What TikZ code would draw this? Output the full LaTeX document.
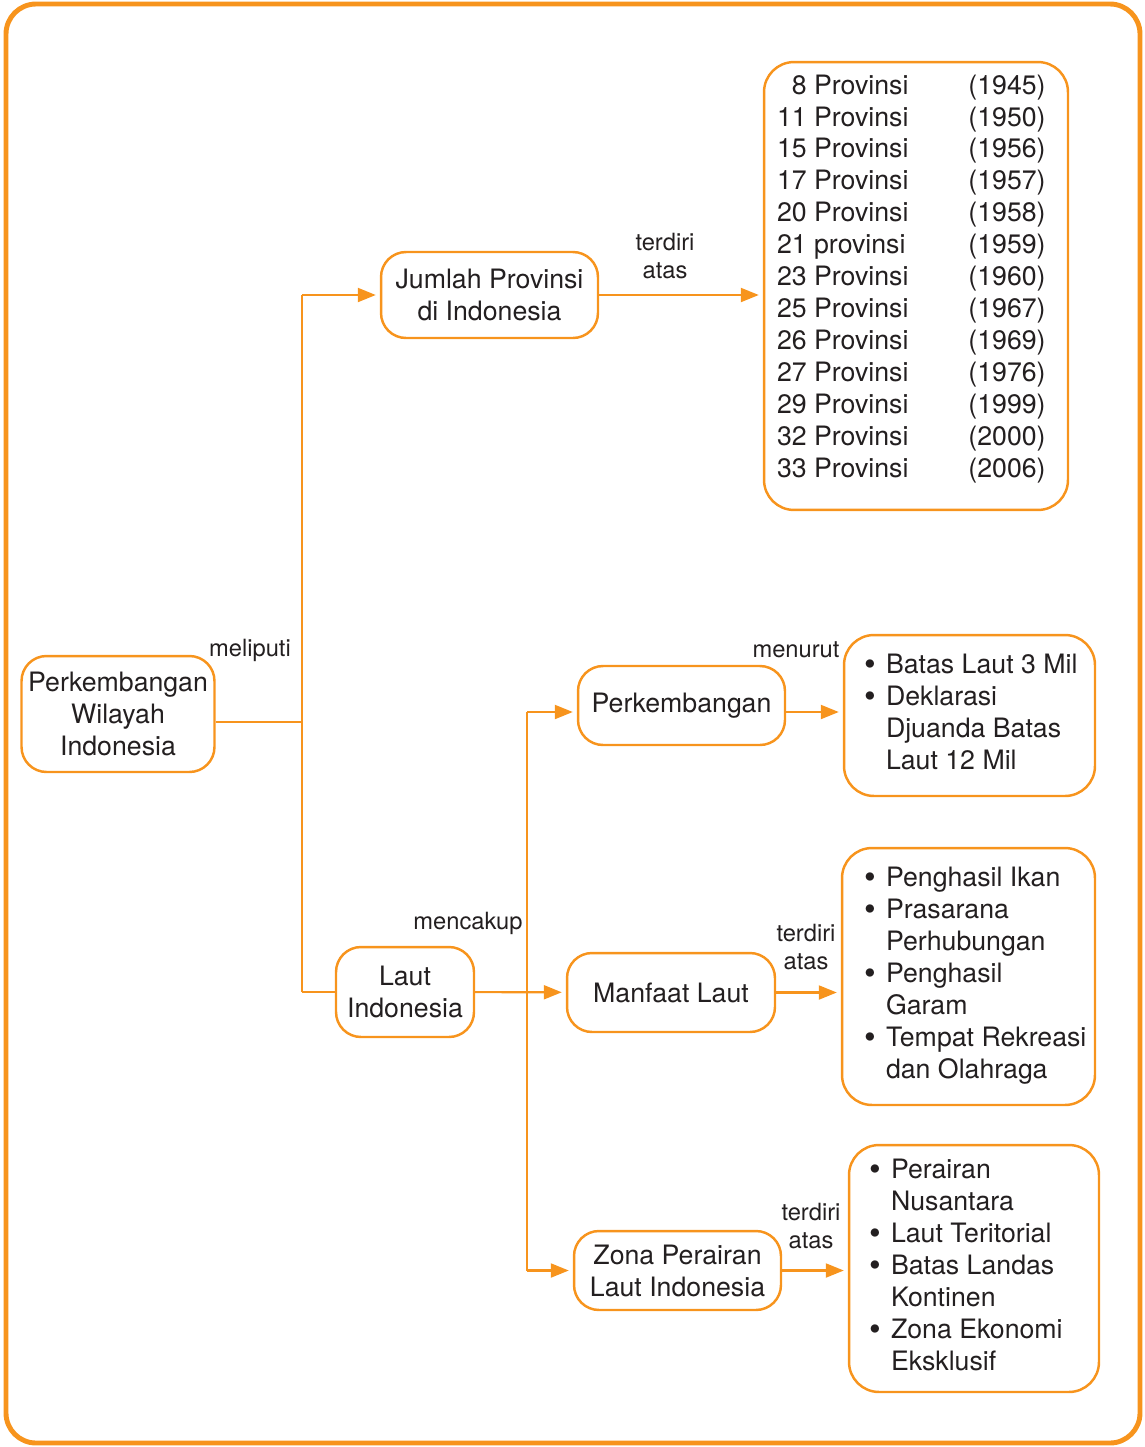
\documentclass[tikz,border=0pt]{standalone}
\usepackage{fontspec}
\setmainfont{TeX Gyre Heros}
\usetikzlibrary{positioning,arrows.meta}
\definecolor{jingga}{HTML}{F7941D}
\definecolor{tinta}{HTML}{231F20}
\newcommand{\bul}{\smash{\fontsize{19}{19}\selectfont\raisebox{-0.04cm}{\textbullet}}}

\begin{document}
\begin{tikzpicture}[x=0.02cm,y=-0.02cm,
  kotak/.style={draw=jingga, line width=1.4pt, rounded corners=0.5cm, align=center, text=tinta, font=\fontsize{15.2}{18.2}\selectfont, inner sep=0pt},
  daftar/.style={kotak, rounded corners=0.6cm},
  ket/.style={text=tinta, align=center, font=\fontsize{13.5}{16.4}\selectfont, inner sep=0pt},
  garis/.style={draw=jingga, line width=1.2pt},
  panah/.style={garis, -{Triangle[length=0.36cm,width=0.28cm]}, shorten >=0.08cm}]
\useasboundingbox (0,0) rectangle (1144,1447);
\draw[draw=jingga, line width=2.8pt, rounded corners=0.6cm] (6,4) rectangle (1140,1443);

% kotak utama
\node[kotak, minimum width=3.86cm, minimum height=2.32cm] (wil) at (118,714) {Perkembangan\\Wilayah\\Indonesia};
\node[kotak, minimum width=4.34cm, minimum height=1.72cm] (jml) at (489.5,295) {Jumlah Provinsi\\di Indonesia};
\node[kotak, minimum width=2.76cm, minimum height=1.8cm] (laut) at (405,992) {Laut\\Indonesia};
\node[kotak, minimum width=4.14cm, minimum height=1.58cm] (perk) at (681.5,705.5) {Perkembangan};
\node[kotak, minimum width=4.16cm, minimum height=1.58cm] (manf) at (671,992.5) {Manfaat Laut};
\node[kotak, minimum width=4.14cm, minimum height=1.58cm] (zona) at (677.5,1270.5) {Zona Perairan\\Laut Indonesia};

% daftar provinsi
\node[daftar, minimum width=6.08cm, minimum height=8.96cm] (prov) at (916,286) {%
\makebox[6.08cm][l]{\hspace{0.26cm}\begin{tabular}{@{}r@{ }l@{\hspace{1.2cm}}l@{}}
8 & Provinsi & (1945)\\
11 & Provinsi & (1950)\\
15 & Provinsi & (1956)\\
17 & Provinsi & (1957)\\
20 & Provinsi & (1958)\\
21 & provinsi & (1959)\\
23 & Provinsi & (1960)\\
25 & Provinsi & (1967)\\
26 & Provinsi & (1969)\\
27 & Provinsi & (1976)\\
29 & Provinsi & (1999)\\
32 & Provinsi & (2000)\\
33 & Provinsi & (2006)\\[0.26cm]
\end{tabular}}};

% daftar berpoin
\node[daftar, minimum width=5.02cm, minimum height=3.22cm] (batas) at (969.5,715.5) {%
\makebox[5.02cm][l]{\hspace{0.4cm}\begin{tabular}{@{}p{0.44cm}@{}l@{}}
\bul & Batas Laut 3 Mil\\
\bul & Deklarasi\\
 & Djuanda Batas\\
 & Laut 12 Mil
\end{tabular}}};
\node[daftar, minimum width=5.06cm, minimum height=5.14cm] (mlist) at (968.5,976.5) {%
\makebox[5.06cm][l]{\hspace{0.44cm}\begin{tabular}{@{}p{0.44cm}@{}l@{}}
\bul & Penghasil Ikan\\
\bul & Prasarana\\
 & Perhubungan\\
\bul & Penghasil\\
 & Garam\\
\bul & Tempat Rekreasi\\
 & dan Olahraga
\end{tabular}}};
\node[daftar, minimum width=5.0cm, minimum height=4.94cm] (zlist) at (974,1268.5) {%
\makebox[5.0cm][l]{\hspace{0.4cm}\begin{tabular}{@{}p{0.44cm}@{}l@{}}
\bul & Perairan\\
 & Nusantara\\
\bul & Laut Teritorial\\
\bul & Batas Landas\\
 & Kontinen\\
\bul & Zona Ekonomi\\
 & Eksklusif
\end{tabular}}};

% penghubung
\coordinate (c1) at (302,722);
\coordinate (c2) at (527,992);
\coordinate (c3) at (527,712);
\draw[garis] (wil.east |- c1) -- (c1);
\draw[garis] (c1 |- jml) -- (c1 |- laut);
\draw[panah] (c1 |- jml) -- (jml);
\draw[garis] (c1 |- laut) -- (laut);
\draw[panah] (jml) -- (prov.west |- jml);
\draw[panah] (laut) -- (manf);
\draw[garis] (c3) -- (c2 |- zona);
\draw[panah] (c3) -- (c3 -| perk.west);
\draw[panah] (c2 |- zona) -- (zona);
\draw[panah] (c3 -| perk.east) -- (c3 -| batas.west);
\draw[panah] (manf) -- (mlist.west |- manf);
\draw[panah] (zona) -- (zlist.west |- zona);

% keterangan
\node[ket] (l1) at (250,650) {meliputi};
\node[ket] (l2) at (665,256) {terdiri\\atas};
\node[ket] (l3) at (796,650) {menurut};
\node[ket] (l4) at (468,923) {mencakup};
\node[ket] (l5) at (806,947) {terdiri\\atas};
\node[ket] (l6) at (811,1226) {terdiri\\atas};
\end{tikzpicture}
\end{document}
